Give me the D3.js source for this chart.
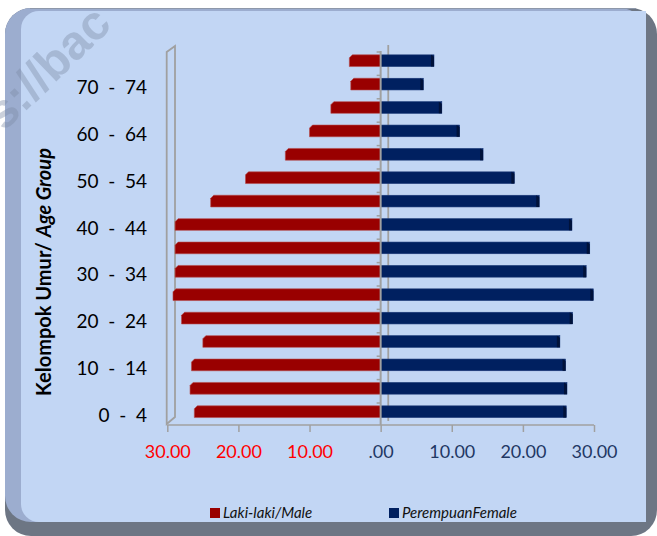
<!DOCTYPE html>
<html>
<head>
<meta charset="utf-8">
<script src="https://cdn.jsdelivr.net/npm/d3@7"></script>
<style>
  body { margin: 0; background: #fff; }
  svg { display: block; }
</style>
</head>
<body>
<svg id="pyramid"></svg>
<script>
const width = 657, height = 536;

// Data (percent per age group)
const ageGroups = ["0 - 4", "5 - 9", "10 - 14", "15 - 19", "20 - 24", "25 - 29", "30 - 34", "35 - 39",
    "40 - 44", "45 - 49", "50 - 54", "55 - 59", "60 - 64", "65 - 69", "70 - 74", "75+"];
const maleValues = [26.2, 26.8, 26.6, 25.0, 28.0, 29.2, 28.9, 28.9, 28.9, 23.9, 19.0, 13.4, 10.0, 7.0, 4.2, 4.4];
const femaleValues = [26.1, 26.2, 26.0, 25.2, 27.0, 29.9, 28.9, 29.4, 26.9, 22.3, 18.8, 14.4, 11.1, 8.6, 6.0, 7.5];
const xTicks = [-30, -20, -10, 0, 10, 20, 30];
const yLabelGroups = ["0 - 4", "10 - 14", "20 - 24", "30 - 34", "40 - 44", "50 - 54", "60 - 64", "70 - 74"];
const legendItems = ["Laki-laki/Male", "PerempuanFemale"];

const maleColor = "#990000", femaleColor = "#002060";
const axisGray = "#a0a0a0";

const svg = d3.select("#pyramid")
    .attr("width", width)
    .attr("height", height);

// Frame with bevel
svg.append("rect")
    .attr("x", 5).attr("y", 8)
    .attr("width", 652).attr("height", 528)
    .attr("rx", 26)
    .attr("fill", "#6d7684");

svg.append("rect")
    .attr("x", 5).attr("y", 8)
    .attr("width", 641).attr("height", 514)
    .attr("rx", 26)
    .attr("fill", "#9cadcf");

svg.append("rect")
    .attr("x", 21).attr("y", 11)
    .attr("width", 625).attr("height", 511)
    .attr("rx", 18)
    .attr("fill", "#c2d6f4");

svg.append("rect")
    .attr("x", 40).attr("y", 11)
    .attr("width", 606).attr("height", 511)
    .attr("fill", "#c2d6f4");

svg.append("line")
    .attr("x1", 30).attr("x2", 636)
    .attr("y1", 8.5).attr("y2", 8.5)
    .attr("stroke", "#8e98aa")
    .attr("stroke-width", 1);

// Scales
const xScale = d3.scaleLinear()
    .domain([-30, 30])
    .range([167.3, 594]);

const yScale = d3.scaleBand()
    .domain(ageGroups.slice().reverse())
    .range([49, 423.4])
    .paddingInner(0.5)
    .paddingOuter(0.25);

const chart = svg.append("g");

// Left wall (3D panel)
chart.append("path")
    .attr("d", "M166.7,424 L166.7,52 L175,46 L175,417 Z")
    .attr("fill", "none")
    .attr("stroke", axisGray)
    .attr("stroke-width", 1.8);

// Back line of the zero axis
chart.append("line")
    .attr("x1", xScale(0) + 7.6).attr("x2", xScale(0) + 7.6)
    .attr("y1", 45).attr("y2", 421)
    .attr("stroke", axisGray)
    .attr("stroke-width", 1.8);

// Male bars
chart.selectAll(".male")
    .data(maleValues)
    .enter().append("path")
    .attr("class", "male")
    .attr("d", (d, i) => {
        const x0 = xScale(-d), x1 = xScale(0);
        const y0 = yScale(ageGroups[i]), h = yScale.bandwidth();
        return `M${x0 + 3},${y0} L${x1},${y0} L${x1},${y0 + h} L${x0},${y0 + h} L${x0},${y0 + 3} Z`;
    })
    .attr("fill", maleColor)
    .attr("stroke", "#b54848")
    .attr("stroke-width", 0.6);

// Female bars
chart.selectAll(".female")
    .data(femaleValues)
    .enter().append("rect")
    .attr("class", "female")
    .attr("x", xScale(0))
    .attr("y", (d, i) => yScale(ageGroups[i]))
    .attr("width", d => xScale(d) - xScale(0))
    .attr("height", yScale.bandwidth())
    .attr("fill", femaleColor)
    .attr("stroke", "#1c3a78")
    .attr("stroke-width", 0.6);

chart.selectAll(".femaleEnd")
    .data(femaleValues)
    .enter().append("path")
    .attr("class", "femaleEnd")
    .attr("d", (d, i) => {
        const x1 = xScale(d), y0 = yScale(ageGroups[i]), h = yScale.bandwidth();
        return `M${x1 - 3},${y0} L${x1},${y0 + 2} L${x1},${y0 + h} L${x1 - 3},${y0 + h} Z`;
    })
    .attr("fill", "#00123a");

// Front zero axis with category ticks
chart.append("line")
    .attr("x1", xScale(0)).attr("x2", xScale(0))
    .attr("y1", 51).attr("y2", 425)
    .attr("stroke", axisGray)
    .attr("stroke-width", 2);

chart.selectAll(".ytick")
    .data(ageGroups)
    .enter().append("line")
    .attr("class", "ytick")
    .attr("x1", xScale(0) - 4).attr("x2", xScale(0))
    .attr("y1", d => yScale(d) - yScale.step() * 0.25 + 3)
    .attr("y2", d => yScale(d) - yScale.step() * 0.25 + 3)
    .attr("stroke", axisGray)
    .attr("stroke-width", 1.5);

// Bottom axis
const xAxis = chart.append("g")
    .attr("transform", `translate(0, 425)`)
    .call(d3.axisBottom(xScale)
        .tickValues(xTicks)
        .tickSize(7)
        .tickPadding(13)
        .tickFormat(d => d === 0 ? ".00" : Math.abs(d).toFixed(2)));

xAxis.select(".domain")
    .attr("stroke", axisGray)
    .attr("stroke-width", 1.5)
    .attr("d", `M${xScale(-30)},0H${xScale(30)}`);

xAxis.selectAll(".tick line")
    .attr("stroke", axisGray)
    .attr("stroke-width", 1.5);

xAxis.selectAll(".tick text")
    .style("font-family", "Lato, 'Open Sans', sans-serif")
    .style("font-size", "18px")
    .attr("fill", d => d < 0 ? "#ff0000" : "#1f3864");

// Age group labels
const yAxis = chart.append("g")
    .attr("transform", `translate(147, 4)`)
    .call(d3.axisLeft(yScale)
        .tickValues(yLabelGroups)
        .tickSize(0)
        .tickPadding(0)
        .tickFormat(d => d.replace(" - ", "\u00a0\u00a0-\u00a0\u00a0")));

yAxis.select(".domain").remove();
yAxis.selectAll(".tick text")
    .style("font-family", "Lato, 'Open Sans', sans-serif")
    .style("font-size", "19px")
    .attr("fill", "#000");

// Y axis title
const yTitle = chart.append("text")
    .attr("transform", "translate(51, 272) rotate(-90)")
    .attr("text-anchor", "middle")
    .style("font-family", "Lato, 'Open Sans', sans-serif")
    .style("font-size", "20px")
    .style("font-weight", "bold");

yTitle.append("tspan").text("Kelompok Umur/ ");
yTitle.append("tspan").style("font-style", "italic").text("Age Group");

// Legend
const legend = svg.selectAll(".legend")
    .data(legendItems)
    .enter().append("g")
    .attr("class", "legend")
    .attr("transform", (d, i) => `translate(${i === 0 ? 210 : 389}, 508)`);

legend.append("rect")
    .attr("width", 10)
    .attr("height", 10)
    .attr("fill", (d, i) => i === 0 ? maleColor : femaleColor);

legend.append("text")
    .attr("x", 13)
    .attr("y", 10)
    .text(d => d)
    .style("font-family", "Lato, 'Open Sans', sans-serif")
    .style("font-size", "15px")
    .style("font-style", "italic")
    .attr("fill", "#111");

// Watermark
svg.append("text")
    .attr("transform", "translate(4, 132) rotate(-44)")
    .text("s://bac")
    .style("font-family", "'Liberation Sans', Arial, sans-serif")
    .style("font-size", "48px")
    .style("font-weight", "bold")
    .attr("fill", "#7d8ca6")
    .attr("opacity", 0.4);
</script>
</body>
</html>
